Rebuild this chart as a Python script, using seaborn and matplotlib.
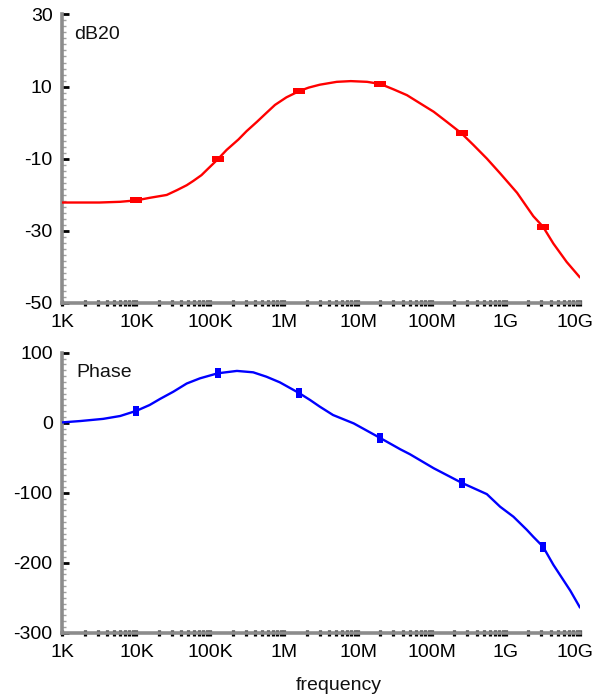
import numpy as np
import pandas as pd
import matplotlib
matplotlib.use("Agg")
import matplotlib.pyplot as plt
from matplotlib.ticker import FixedLocator, LogLocator, NullFormatter
from matplotlib.transforms import ScaledTranslation
import seaborn as sns

# Gain response (dB20) versus frequency
gain_freq = [1.0e3, 3.16e3, 6.03e3, 1.0e4, 1.51e4, 2.57e4, 3.55e4, 4.79e4,
             5.89e4, 7.59e4, 8.91e4, 1.26e5, 1.66e5, 2.40e5, 3.09e5, 4.27e5,
             5.75e5, 7.50e5, 1.07e6, 1.58e6, 2.14e6, 3.02e6, 5.13e6, 7.94e6,
             1.32e7, 2.0e7, 3.02e7, 4.57e7, 6.92e7, 1.05e8, 1.58e8, 2.5e8,
             3.63e8, 5.5e8, 8.32e8, 1.41e9, 1.91e9, 2.34e9, 3.16e9, 4.37e9,
             6.61e9, 1.0e10]
gain_db = [-22.2, -22.2, -22.0, -21.6, -20.9, -20.1, -18.75, -17.4,
           -16.2, -14.6, -13.2, -10.2, -7.6, -4.7, -2.4, 0.2,
           2.7, 4.9, 7.0, 8.7, 9.7, 10.5, 11.3, 11.5,
           11.3, 10.7, 9.2, 7.6, 5.3, 3.0, 0.2, -3.0,
           -6.25, -10.0, -14.1, -19.5, -23.4, -26.0, -28.9, -33.6,
           -38.7, -43.0]

# Phase response versus frequency
phase_freq = [1.0e3, 1.74e3, 3.55e3, 6.03e3, 1.0e4, 1.51e4, 2.09e4, 3.16e4,
              4.79e4, 7.24e4, 1.26e5, 2.29e5, 3.80e5, 5.75e5, 8.71e5, 1.58e6,
              2.24e6, 3.02e6, 4.57e6, 8.71e6, 2.0e7, 3.72e7, 5.01e7, 1.05e8,
              2.5e8, 5.5e8, 8.32e8, 1.26e9, 1.91e9, 2.34e9, 3.16e9, 4.37e9,
              7.41e9, 1.0e10]
phase_deg = [0.5, 2.4, 5.5, 9.6, 17, 25.3, 34, 44.3,
             56, 63.4, 70.6, 74, 72, 65.7, 57.7, 42.5,
             32.4, 23, 11, -1, -22, -38, -45, -65,
             -85.7, -102, -120, -134.3, -153, -163, -177, -203,
             -240, -264]

# Frequencies carrying a point marker on each trace
marker_freq = [1.0e4, 1.26e5, 1.58e6, 2.0e7, 2.5e8, 3.16e9]

x_ticks = [1e3, 1e4, 1e5, 1e6, 1e7, 1e8, 1e9, 1e10]
x_tick_labels = ["1K", "10K", "100K", "1M", "10M", "100M", "1G", "10G"]
gain_ticks = [30, 10, -10, -30, -50]
phase_ticks = [100, 0, -100, -200, -300]

sns.set_theme(style="white")
plt.rcParams["font.family"] = ["Liberation Sans", "DejaVu Sans"]

FS = 14

gain_df = pd.DataFrame({"frequency": gain_freq, "dB20": gain_db})
phase_df = pd.DataFrame({"frequency": phase_freq, "Phase": phase_deg})

fig = plt.figure(figsize=(6.03, 6.99), dpi=100)
ax1 = fig.add_axes([0.1036, 0.567, 0.8582, 0.4123])
ax2 = fig.add_axes([0.1036, 0.0948, 0.8582, 0.4006])

# marker shapes: a flat bar for gain, an upright bar for phase
flat_box = [(-1, -0.5), (1, -0.5), (1, 0.5), (-1, 0.5), (-1, -0.5)]
tall_box = [(-0.7, -1), (0.7, -1), (0.7, 1), (-0.7, 1), (-0.7, -1)]


def style_axes(ax, yticks, ylim, minor_step):
    ax.set_xscale("log")
    ax.set_xlim(1e3, 1e10)
    ax.set_ylim(*ylim)
    ax.set_xticks(x_ticks)
    ax.set_xticklabels(x_tick_labels)
    ax.xaxis.set_minor_locator(LogLocator(base=10, subs=np.arange(2, 10)))
    ax.xaxis.set_minor_formatter(NullFormatter())
    ax.set_yticks(yticks)
    ax.set_yticklabels([str(t) for t in yticks])
    ax.yaxis.set_minor_locator(FixedLocator(np.arange(ylim[0], ylim[1] + 1e-9, minor_step)))
    for side in ("top", "right"):
        ax.spines[side].set_visible(False)
    for side in ("left", "bottom"):
        ax.spines[side].set_color("#8c8c8c")
        ax.spines[side].set_linewidth(2.6)
        ax.spines[side].set_zorder(1.5)
    ax.tick_params(axis="x", which="both", direction="inout", length=3.8, width=2.3,
                   color="black", bottom=True, labelsize=FS, pad=6, labelcolor="black")
    ax.tick_params(axis="y", which="major", direction="in", length=5, width=2.0,
                   color="black", left=True, labelsize=FS, pad=7, labelcolor="black")
    ax.tick_params(axis="y", which="minor", direction="in", length=3, width=1.0,
                   color="#a0a0a0", left=True)
    # keep the last decade label clear of the right edge
    last = ax.get_xticklabels()[-1]
    last.set_transform(last.get_transform() + ScaledTranslation(-5 / 100, 0, fig.dpi_scale_trans))
    ax.set_xlabel("")
    ax.set_ylabel("")
    ax.grid(False)


sns.lineplot(data=gain_df, x="frequency", y="dB20", ax=ax1, color="#ff0000",
             linewidth=1.7, estimator=None, sort=True)
gmark = gain_df[gain_df["frequency"].isin(marker_freq)]
ax1.plot(gmark["frequency"], gmark["dB20"], linestyle="none", marker=flat_box,
         markersize=9, color="#ff0000", markeredgewidth=0)
style_axes(ax1, gain_ticks, (-50, 30), 80 / 48)
ax1.text(0.022, 0.929, "dB20", transform=ax1.transAxes, fontsize=FS,
         ha="left", va="center", color="#111111")

sns.lineplot(data=phase_df, x="frequency", y="Phase", ax=ax2, color="#0000ff",
             linewidth=1.7, estimator=None, sort=True)
pmark = phase_df[phase_df["frequency"].isin(marker_freq)]
ax2.plot(pmark["frequency"], pmark["Phase"], linestyle="none", marker=tall_box,
         markersize=7, color="#0000ff", markeredgewidth=0)
style_axes(ax2, phase_ticks, (-300, 100), 400 / 48)
ax2.text(0.027, 0.929, "Phase", transform=ax2.transAxes, fontsize=FS,
         ha="left", va="center", color="#111111")

fig.text(0.561, 0.02, "frequency", ha="center", va="center", fontsize=FS,
         color="#111111")

fig.savefig("out.png", dpi=100, facecolor="white")
